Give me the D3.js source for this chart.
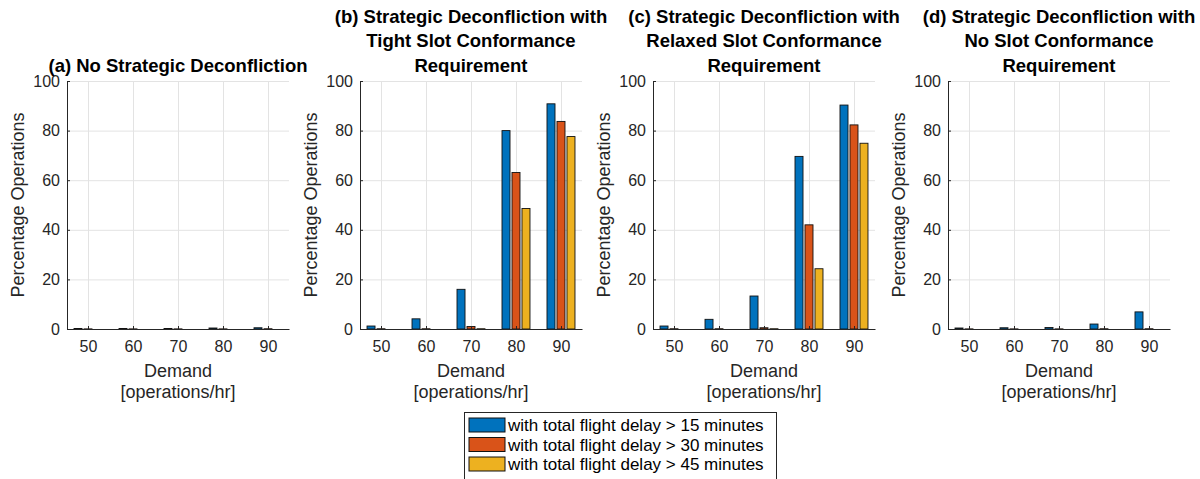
<!DOCTYPE html>
<html>
<head>
<meta charset="utf-8">
<script src="https://cdn.jsdelivr.net/npm/d3@7"></script>
<style>
    body { margin: 0; background: #fff; }
    svg { font-family: "Liberation Sans", Arial, Helvetica, sans-serif; }
</style>
</head>
<body>
<div id="chart"></div>
<script>
;(function () {

    // demand levels on the x axis
    var demand = [50, 60, 70, 80, 90];
    var yTicks = [0, 20, 40, 60, 80, 100];

    var seriesNames = [
        'with total flight delay > 15 minutes',
        'with total flight delay > 30 minutes',
        'with total flight delay > 45 minutes'
    ];
    var seriesColors = ['#0072BD', '#D95319', '#EDB120'];

    var panelTitles = [
        ['(a) No Strategic Deconfliction'],
        ['(b) Strategic Deconfliction with', 'Tight Slot Conformance', 'Requirement'],
        ['(c) Strategic Deconfliction with', 'Relaxed Slot Conformance', 'Requirement'],
        ['(d) Strategic Deconfliction with', 'No Slot Conformance', 'Requirement']
    ];

    // (a) no strategic deconfliction
    var noDecon15 = [0.2, 0.2, 0.2, 0.4, 0.5];
    var noDecon30 = [0.05, 0.05, 0.05, 0.05, 0.1];
    var noDecon45 = [0, 0, 0, 0, 0];

    // (b) tight slot conformance
    var tight15 = [1.2, 4.1, 16.0, 80.0, 90.8];
    var tight30 = [0.1, 0.1, 1.0, 63.1, 83.7];
    var tight45 = [0, 0, 0.1, 48.6, 77.6];

    // (c) relaxed slot conformance
    var relaxed15 = [1.2, 3.9, 13.3, 69.6, 90.3];
    var relaxed30 = [0.1, 0.1, 0.5, 42.0, 82.3];
    var relaxed45 = [0, 0, 0.1, 24.3, 74.9];

    // (d) no slot conformance
    var noSlot15 = [0.4, 0.5, 0.6, 2.0, 6.9];
    var noSlot30 = [0.05, 0.05, 0.05, 0.1, 0.1];
    var noSlot45 = [0, 0, 0, 0, 0];

    var panels = [
        [noDecon15, noDecon30, noDecon45],
        [tight15, tight30, tight45],
        [relaxed15, relaxed30, relaxed45],
        [noSlot15, noSlot30, noSlot45]
    ];

    var width = 1200
        , height = 479
        , panelLeft = [67, 360, 653, 948]
        , axTop = 81
        , axW = 222
        , axH = 248
        , axisColor = '#262626'
        , gridColor = '#e3e3e3';

    var svg = d3.select('#chart').append('svg')
        .attr('width', width)
        .attr('height', height);

    var x = d3.scaleLinear().domain([45.33, 94.67]).range([0, axW]);
    var y = d3.scaleLinear().domain([0, 100]).range([axH, 0]);
    var barOffset = 2.22, barWidth = 1.78;

    function drawPanel(p) {
        var g = svg.append('g')
            .attr('transform', 'translate(' + panelLeft[p] + ',' + axTop + ')');

        // grid
        g.selectAll('.hgrid').data(yTicks).enter().append('line')
            .attr('x1', 0).attr('x2', axW)
            .attr('y1', function(d) { return y(d) + 0.5; })
            .attr('y2', function(d) { return y(d) + 0.5; })
            .attr('stroke', gridColor);
        g.selectAll('.vgrid').data(demand).enter().append('line')
            .attr('x1', function(d) { return Math.round(x(d)) + 0.5; })
            .attr('x2', function(d) { return Math.round(x(d)) + 0.5; })
            .attr('y1', 0).attr('y2', axH)
            .attr('stroke', gridColor);

        // bars
        panels[p].forEach(function(values, s) {
            g.selectAll('.bar' + s).data(values).enter().append('rect')
                .attr('x', function(d, i) { return x(demand[i] + (s - 1) * barOffset - barWidth / 2); })
                .attr('width', x(barWidth) - x(0))
                .attr('y', function(d) { return y(d); })
                .attr('height', function(d) { return y(0) - y(d); })
                .attr('fill', seriesColors[s])
                .attr('stroke', '#111')
                .attr('stroke-width', 0.9);
        });

        // axes, ticks point inward like MATLAB
        var yAxis = d3.axisLeft(y).tickValues(yTicks).tickSizeInner(-3).tickSizeOuter(0).tickPadding(7);
        var xAxis = d3.axisBottom(x).tickValues(demand).tickSizeInner(-3).tickSizeOuter(0).tickPadding(12);

        var ya = g.append('g').call(yAxis);
        var xa = g.append('g').attr('transform', 'translate(0,' + axH + ')').call(xAxis);
        [ya, xa].forEach(function(a) {
            a.select('.domain').attr('stroke', axisColor);
            a.selectAll('.tick line').attr('stroke', axisColor);
            a.selectAll('.tick text')
                .attr('fill', axisColor)
                .style('font-size', '16px')
                .style('font-family', '"Liberation Sans", Arial, sans-serif');
        });

        // y label
        g.append('text')
            .attr('transform', 'translate(-43.5,' + (axH / 2) + ') rotate(-90)')
            .attr('text-anchor', 'middle')
            .attr('fill', axisColor)
            .style('font-size', '18px')
            .text('Percentage Operations');

        // x label
        g.append('text')
            .attr('x', axW / 2).attr('y', axH + 47.5)
            .attr('text-anchor', 'middle')
            .attr('fill', axisColor)
            .style('font-size', '18px')
            .text('Demand');
        g.append('text')
            .attr('x', axW / 2).attr('y', axH + 69)
            .attr('text-anchor', 'middle')
            .attr('fill', axisColor)
            .style('font-size', '18px')
            .text('[operations/hr]');

        // title, bottom line sits just above the axes
        var lines = panelTitles[p];
        lines.forEach(function(line, i) {
            g.append('text')
                .attr('x', axW / 2)
                .attr('y', -9.5 - (lines.length - 1 - i) * 24.5)
                .attr('text-anchor', 'middle')
                .attr('fill', '#000')
                .style('font-size', '18.5px')
                .style('font-weight', 'bold')
                .text(line);
        });
    }

    for (var p = 0; p < panels.length; p++) {
        drawPanel(p);
    }

    // legend
    var legend = svg.append('g').attr('transform', 'translate(464,412)');
    legend.append('rect')
        .attr('x', 0.5).attr('y', 0.5)
        .attr('width', 312).attr('height', 70)
        .attr('fill', '#fff')
        .attr('stroke', axisColor);
    seriesNames.forEach(function(name, i) {
        legend.append('rect')
            .attr('x', 5).attr('y', 6 + i * 19.5)
            .attr('width', 36).attr('height', 14)
            .attr('fill', seriesColors[i])
            .attr('stroke', '#111');
        legend.append('text')
            .attr('x', 44).attr('y', 19 + i * 19.5)
            .attr('fill', '#000')
            .style('font-size', '17px')
            .text(name);
    });

}());
</script>
</body>
</html>
